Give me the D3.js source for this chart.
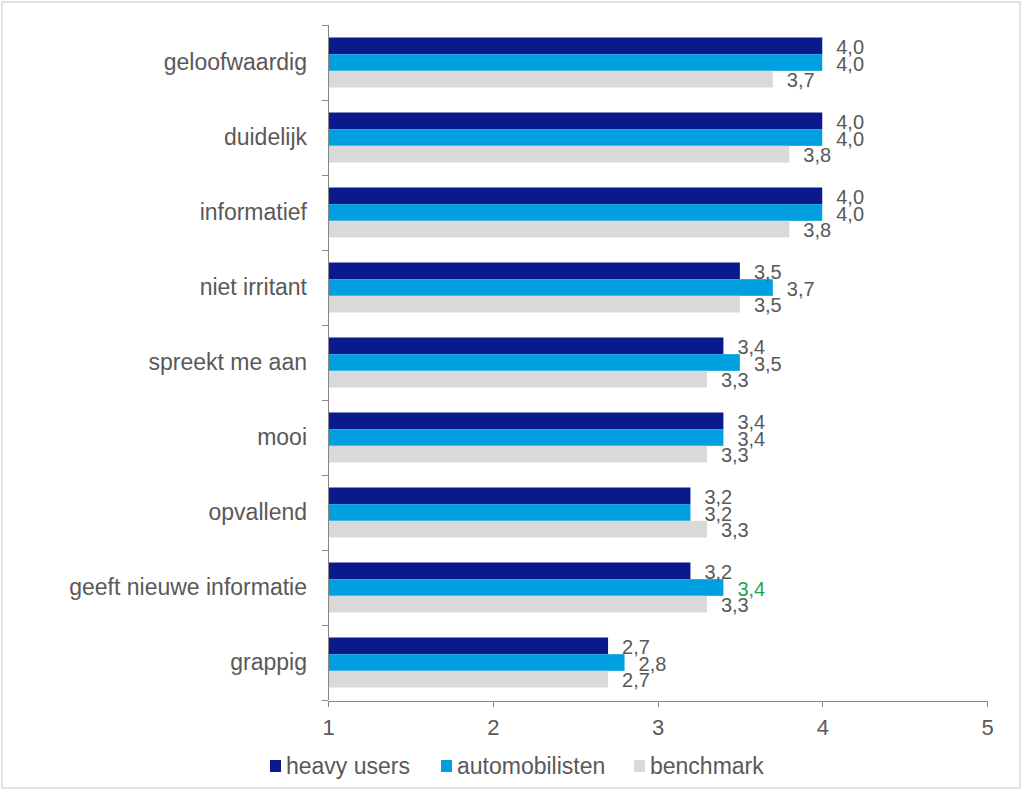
<!DOCTYPE html>
<html lang="nl">
<head>
    <meta charset="UTF-8">
    <title>Beoordeling</title>
    <script src="https://d3js.org/d3.v7.min.js"></script>
    <style>
    body{
        margin: 0;
        background: #fff;
    }
    text{
        font-family: "Liberation Sans", Arial, sans-serif;
        fill: #595959;
    }
    .axis path,
    .axis line{
        fill: none;
        stroke: #868686;
        shape-rendering: crispEdges;
    }
    </style>
</head>
<body>
    <script>
    var width = 1024;
    var height = 792;

    // data
    var categories = ["geloofwaardig", "duidelijk", "informatief", "niet irritant", "spreekt me aan",
                      "mooi", "opvallend", "geeft nieuwe informatie", "grappig"];
    var series = ["heavy users", "automobilisten", "benchmark"];
    var heavyUsers     = [4.0, 4.0, 4.0, 3.5, 3.4, 3.4, 3.2, 3.2, 2.7];
    var automobilisten = [4.0, 4.0, 4.0, 3.7, 3.5, 3.4, 3.2, 3.4, 2.8];
    var benchmark      = [3.7, 3.8, 3.8, 3.5, 3.3, 3.3, 3.3, 3.3, 2.7];
    var xTicks = [1, 2, 3, 4, 5];

    var colors = ["#0a1a8c", "#00a0e0", "#d9d9d9"];
    var values = [heavyUsers, automobilisten, benchmark];

    // one highlighted label (green in the original)
    var highlight = {series: 1, category: 7, color: "#1fa24f"};

    var svg = d3.select("body")
        .append("svg")
        .attr("width", width)
        .attr("height", height);

    // frame
    svg.append("rect")
        .attr("x", 2).attr("y", 2)
        .attr("width", 1018).attr("height", 786)
        .attr("fill", "none")
        .attr("stroke", "#e3e3e3")
        .attr("stroke-width", 2);

    // scales
    var x = d3.scaleLinear()
        .domain([1, 5])
        .range([328, 987]);

    var y = d3.scaleBand()
        .domain(categories)
        .range([25, 700]);

    var ySub = d3.scaleBand()
        .domain(series)
        .range([0, y.bandwidth()])
        .paddingOuter(0.75);

    var rows = categories.map(function(c, i) {
        return {
            name: c,
            idx: i,
            vals: series.map(function(s, j) { return {s: s, j: j, v: values[j][i]}; })
        };
    });

    var groups = svg.selectAll(".grp")
        .data(rows)
        .enter().append("g")
        .attr("class", "grp")
        .attr("transform", function(d) { return "translate(0," + y(d.name) + ")"; });

    groups.selectAll("rect")
        .data(function(d) { return d.vals; })
        .enter().append("rect")
        .attr("x", x(1))
        .attr("y", function(d) { return ySub(d.s); })
        .attr("width", function(d) { return x(d.v) - x(1); })
        .attr("height", ySub.bandwidth())
        .attr("fill", function(d) { return colors[d.j]; });

    // data labels
    groups.each(function(row) {
        d3.select(this).selectAll(".lbl")
            .data(row.vals)
            .enter().append("text")
            .attr("class", "lbl")
            .attr("x", function(d) { return x(d.v) + 14; })
            .attr("y", function(d) { return ySub(d.s) + ySub.bandwidth() / 2 + 1; })
            .attr("dy", "0.36em")
            .style("font-size", "20px")
            .style("fill", function(d) {
                return (d.j === highlight.series && row.idx === highlight.category) ? highlight.color : null;
            })
            .text(function(d) { return d3.format(".1f")(d.v).replace(".", ","); });
    });

    // y axis
    var yAxis = svg.append("g")
        .attr("class", "axis")
        .attr("transform", "translate(" + x(1) + ",0)")
        .call(d3.axisLeft(y).tickSize(0).tickSizeOuter(0).tickPadding(21));
    yAxis.selectAll("text")
        .style("font-size", "23px")
        .attr("fill", null);
    yAxis.select(".domain").attr("d", "M0.5," + y.range()[0] + "V" + y.range()[1]);
    // tick marks on category boundaries
    var bounds = categories.map(function(c) { return y(c); }).concat([y.range()[1]]);
    yAxis.selectAll(".bnd")
        .data(bounds)
        .enter().append("line")
        .attr("class", "bnd")
        .attr("x1", -6).attr("x2", 0)
        .attr("y1", function(d) { return Math.round(d) + 0.5; })
        .attr("y2", function(d) { return Math.round(d) + 0.5; });

    // x axis
    var xAxis = svg.append("g")
        .attr("class", "axis")
        .attr("transform", "translate(0," + (y.range()[1] + 1) + ")")
        .call(d3.axisBottom(x).tickValues(xTicks).tickFormat(d3.format("d"))
            .tickSize(6).tickSizeOuter(0).tickPadding(12));
    xAxis.selectAll("text")
        .style("font-size", "22px")
        .attr("fill", null);

    // legend
    var legendX = [270, 441, 634];
    var legend = svg.selectAll(".leg")
        .data(series)
        .enter().append("g")
        .attr("class", "leg")
        .attr("transform", function(d, i) { return "translate(" + legendX[i] + ",766)"; });
    legend.append("rect")
        .attr("x", 0).attr("y", -6)
        .attr("width", 11).attr("height", 12)
        .attr("fill", function(d, i) { return colors[i]; });
    legend.append("text")
        .attr("x", 16)
        .attr("dy", "0.36em")
        .style("font-size", "23px")
        .text(function(d) { return d; });
    </script>
</body>
</html>
